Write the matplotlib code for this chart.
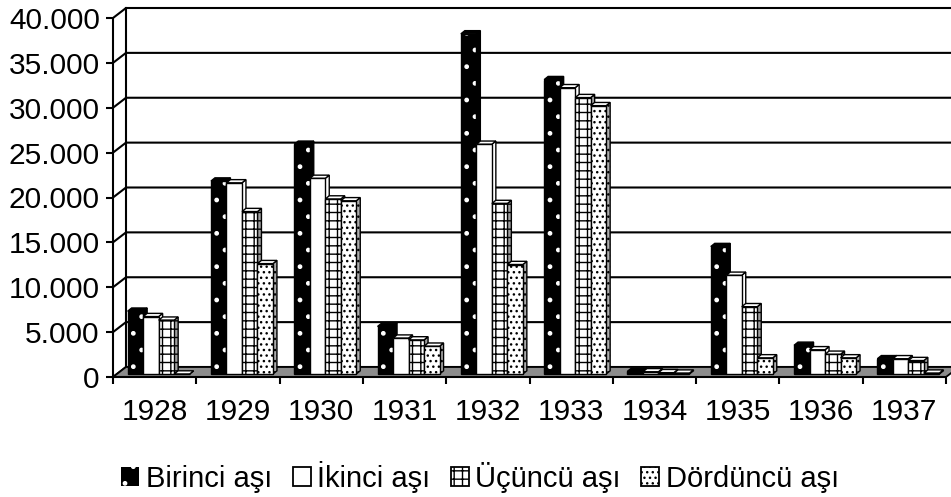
import matplotlib
matplotlib.use('Agg')
import matplotlib.pyplot as plt
from matplotlib.patches import Polygon, Patch
from matplotlib.ticker import FuncFormatter, FixedLocator

# ---------------- data ----------------
years = ['1928', '1929', '1930', '1931', '1932', '1933', '1934', '1935', '1936', '1937']
series_names = ['Birinci aşı', 'İkinci aşı', 'Üçüncü aşı', 'Dördüncü aşı']
birinci = [7000, 21500, 25600, 5300, 37900, 32800, 300, 14200, 3200, 1700]
ikinci = [6400, 21300, 21800, 4000, 25600, 31900, 250, 11000, 2700, 1700]
ucuncu = [6000, 18100, 19500, 3800, 19000, 30800, 150, 7500, 2200, 1500]
dorduncu = [0, 12300, 19300, 3100, 12200, 29900, 100, 1800, 1800, 100]
yticks = [0, 5000, 10000, 15000, 20000, 25000, 30000, 35000, 40000]

series = [birinci, ikinci, ucuncu, dorduncu]

# ---------------- styles ----------------
plt.rcParams['font.family'] = ['Liberation Sans', 'DejaVu Sans']
plt.rcParams['hatch.linewidth'] = 1.0

W, H = 951, 497
fig = plt.figure(figsize=(W / 100, H / 100), dpi=100)

# pixel geometry of the front axes
x_left_px, y_zero_px = 113, 377
px_per_cat = 83.3
px_per_val = 8.975 / 1000.0

ax = fig.add_axes([x_left_px / W, (H - y_zero_px) / H,
                   (W - x_left_px) / W, y_zero_px / H])
ax.set_xlim(-0.5, -0.5 + (W - x_left_px) / px_per_cat)
ax.set_ylim(0, y_zero_px / px_per_val)

def dx(p):
    return p / px_per_cat

def dy(p):
    return p / px_per_val

WX, WY = dx(13), dy(10)      # back wall depth
FX, FY = dx(4), dy(3)        # bar front face depth
BX, BY = dx(4), dy(3.2)      # bar depth

n = len(years)
xs = list(range(n))
xmax = ax.get_xlim()[1] + 1

# walls / gridlines
for v in yticks:
    ax.plot([-0.5, -0.5 + WX, xmax], [v, v + WY, v + WY],
            color='black', lw=1.5, zorder=1, solid_joinstyle='miter', clip_on=True)
ax.plot([-0.5 + WX, -0.5 + WX], [WY, yticks[-1] + WY], color='black', lw=1.5, zorder=1)

# floor
ax.add_patch(Polygon([(-0.5, 0), (n - 0.5, 0), (n - 0.5 + WX, WY), (-0.5 + WX, WY)],
                     closed=True, facecolor='#8c8c8c', edgecolor='black', lw=1.3, zorder=1.5))

# bars
bw = 15.5 / px_per_cat
off = (1 - 4 * bw) / 2
front_styles = [
    dict(fc='black', hatch='.', hc='white'),
    dict(fc='white', hatch=None, hc='black'),
    dict(fc='white', hatch='++', hc='black'),
    dict(fc='white', hatch='...', hc='black'),
]
side_colors = ['black', 'white', '#a0a0a0', '#adadad']
top_colors = ['black', 'white', 'white', 'white']

for j, vals in enumerate(series):
    z = 3 + j
    st = front_styles[j]
    x0s = [i - 0.5 + off + j * bw + FX for i in xs]
    for x0, v in zip(x0s, vals):
        top = FY + v
        ax.add_patch(Polygon([(x0 + bw, FY), (x0 + bw + BX, FY + BY),
                              (x0 + bw + BX, top + BY), (x0 + bw, top)], closed=True,
                             facecolor=side_colors[j], edgecolor='black', lw=1.0,
                             hatch=st['hatch'], zorder=z))
        ax.add_patch(Polygon([(x0, top), (x0 + bw, top), (x0 + bw + BX, top + BY),
                              (x0 + BX, top + BY)], closed=True,
                             facecolor=top_colors[j], edgecolor='black', lw=1.0, zorder=z))
    ax.bar(x0s, vals, width=bw, bottom=FY, align='edge', color=st['fc'],
           edgecolor=st['hc'], hatch=st['hatch'], linewidth=0, zorder=z + 0.5)
    ax.bar(x0s, vals, width=bw, bottom=FY, align='edge', fill=False,
           edgecolor='black', linewidth=1.0, zorder=z + 0.6)

# axes / ticks
for s in ['top', 'right']:
    ax.spines[s].set_visible(False)
ax.spines['left'].set_bounds(0, yticks[-1])
ax.spines['bottom'].set_bounds(-0.5, n - 0.5)
ax.spines['left'].set_linewidth(1.5)
ax.spines['bottom'].set_linewidth(1.5)
ax.spines['left'].set_zorder(10)
ax.spines['bottom'].set_zorder(10)

ax.yaxis.set_major_locator(FixedLocator(yticks))
ax.yaxis.set_major_formatter(FuncFormatter(lambda v, p: f'{v:,.0f}'.replace(',', '.')))
ax.tick_params(axis='y', length=5, width=1.5, pad=4.5, labelsize=21.5, direction='out')

ax.set_xticks(xs)
ax.set_xticklabels(years)
ax.set_xticks([i - 0.5 for i in range(n + 1)], minor=True)
ax.tick_params(axis='x', which='major', length=0, pad=15, labelsize=21.5)
ax.tick_params(axis='x', which='minor', length=5, width=1.5, direction='out')

# legend
handles = [
    Patch(facecolor='black', edgecolor='white', hatch='.', lw=0),
    Patch(facecolor='white', edgecolor='black', lw=1.3),
    Patch(facecolor='white', edgecolor='black', hatch='++', lw=1.3),
    Patch(facecolor='white', edgecolor='black', hatch='...', lw=1.3),
]
fig.legend(handles, series_names, loc='center', bbox_to_anchor=(480 / W, 1 - 477 / H),
           ncol=4, frameon=False, fontsize=21, handlelength=0.62, handleheight=0.62,
           handletextpad=0.22, columnspacing=0.7, borderaxespad=0)

fig.savefig('out.png', dpi=100)
